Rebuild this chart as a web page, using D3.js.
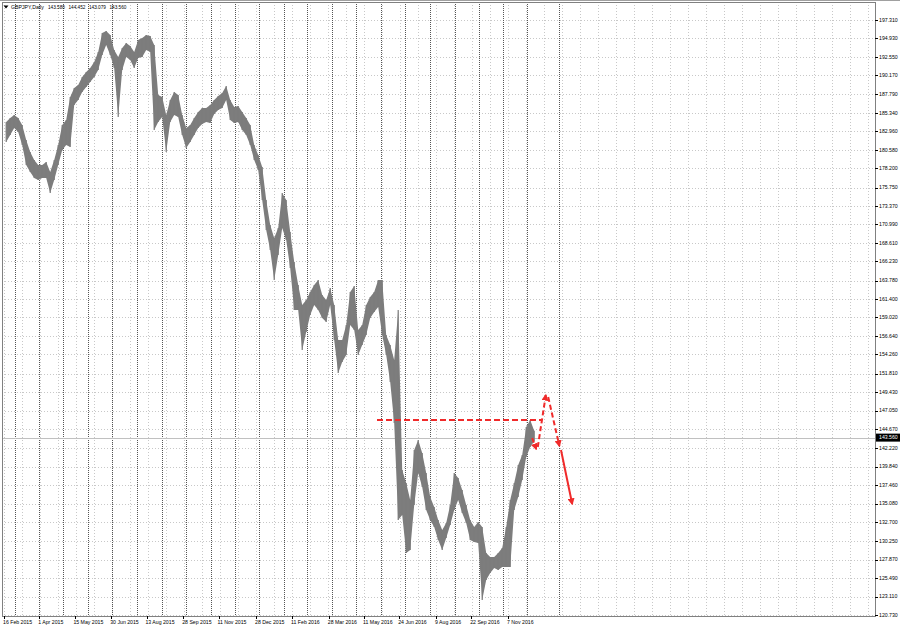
<!DOCTYPE html>
<html><head><meta charset="utf-8">
<script src="https://cdn.jsdelivr.net/npm/d3@7"></script>
<style>
html,body{margin:0;padding:0;background:#fff;}
svg{display:block;}
text{font-family:"Liberation Sans",Arial,sans-serif;}
</style></head><body>
<svg id="chart" width="900" height="629"></svg>
<script>
// ---- data ----
const symbolTitle = "GBPJPY,Daily";
const titleValues = ["143.580", "144.452", "143.079", "143.560"];
const barStart = "2015-02-16";
const barStepDays = 5; // each entry = high/low over a 5-day slice
const highs = [184.18,184.69,185.08,184.69,183.79,181.86,180.32,179.29,178.64,178.64,
179.03,177.74,179.29,181.22,183.79,184.44,187.40,188.55,188.94,189.97,
190.61,191.13,191.90,193.19,195.63,195.89,195.38,193.45,192.54,193.70,
194.35,193.96,193.19,194.73,194.99,195.38,195.25,194.09,187.65,187.40,
185.08,187.01,188.04,187.65,185.08,183.41,183.79,184.69,185.47,185.98,
185.98,186.37,187.01,187.52,187.91,188.81,187.01,186.11,186.24,185.47,
184.69,183.79,181.22,179.93,178.39,174.14,170.92,169.25,170.54,175.04,
174.14,170.02,166.16,163.20,160.63,161.27,162.30,163.20,163.84,161.91,
161.27,162.81,160.63,156.12,156.12,158.05,162.30,163.07,157.41,158.05,
160.63,161.66,162.30,163.84,163.84,156.77,155.48,153.55,159.98,139.39,
137.72,135.53,141.97,143.25,141.58,139.01,135.92,134.63,132.96,131.67,
132.57,134.89,139.01,138.36,136.82,134.89,132.96,132.05,132.70,132.05,
128.71,128.19,128.19,128.71,129.35,132.05,135.53,137.72,140.03,141.32,
144.93,145.83,144.45];
const lows = [181.60,182.51,183.41,182.89,181.22,178.64,177.74,176.97,176.71,176.97,
176.97,175.04,176.71,178.64,180.58,181.22,180.96,186.37,187.01,188.04,
188.68,189.33,189.97,190.87,192.80,194.09,192.80,191.13,184.82,190.87,
192.54,192.16,191.13,192.42,192.54,193.45,193.19,183.15,184.18,184.82,
180.32,184.18,185.08,184.82,182.51,180.83,181.60,182.51,183.41,183.92,
184.18,184.05,185.21,185.72,185.98,187.01,184.44,184.05,184.18,183.15,
182.51,181.22,179.29,178.00,174.14,170.28,167.71,163.84,167.06,170.54,
168.99,165.39,159.98,159.98,154.83,157.15,159.34,160.63,159.98,158.95,
158.44,160.63,156.12,151.87,153.29,154.19,158.05,157.41,154.19,155.48,
156.77,158.95,159.73,160.37,156.77,154.19,150.72,145.44,132.96,133.60,
128.71,129.10,134.89,139.01,137.20,134.24,132.96,132.05,130.38,129.10,
130.64,132.31,134.24,135.53,133.86,132.57,130.38,130.12,130.00,122.66,
125.23,126.13,126.78,126.52,126.91,126.91,126.91,134.24,135.92,138.10,
141.06,142.35,143.08];
const lastPrice = 143.560;
const priceTicks = ["197.310","194.930","192.550","190.170","187.790","185.340","182.960","180.580",
"178.200","175.750","173.370","170.990","168.610","166.230","163.780","161.400","159.020",
"156.640","154.260","151.810","149.430","147.050","144.670","142.220","139.840","137.460",
"135.080","132.700","130.250","127.870","125.490","123.110","120.730"];
const dateLabels = ["16 Feb 2015","1 Apr 2015","15 May 2015","30 Jun 2015","13 Aug 2015",
"28 Sep 2015","11 Nov 2015","28 Dec 2015","11 Feb 2016","28 Mar 2016","11 May 2016",
"24 Jun 2016","9 Aug 2016","22 Sep 2016","7 Nov 2016"];
const separatorFrom = "2015-03-01", separatorTo = "2016-12-02";
const markerLineDate = "2017-01-10";
const levelDates = ["2016-05-27", "2016-12-18"];
const levelPrice = 145.83;
const arrowFrom = [["2016-12-07",143.51],["2016-12-14",142.35],["2016-12-27",148.79],["2017-01-12",141.97]];
const arrowTo   = [["2016-12-12",142.09],["2016-12-24",149.04],["2017-01-10",142.48],["2017-01-26",135.02]];
const arrowDashed = [true, true, true, false];

// ---- layout ----
const W = 900, H = 629;
const plot = {l: 2, r: 875, t: 2, b: 616};
const parse = d3.timeParse("%Y-%m-%d");
const parseLabel = d3.timeParse("%e %b %Y");
const t0 = parse(barStart);
const x = d3.scaleTime().domain([t0, parse("2018-02-08")]).range([4.2, 874.6]);
const y = d3.scaleLinear().domain([120.73, 197.31]).range([615, 20]);

const svg = d3.select("#chart");
svg.append("rect").attr("width", W).attr("height", H).attr("fill", "#fff");
const defs = svg.append("defs");
defs.append("clipPath").attr("id", "clip").append("rect")
  .attr("x", plot.l).attr("y", plot.t).attr("width", plot.r - plot.l).attr("height", plot.b - plot.t);
defs.append("marker").attr("id", "ah").attr("viewBox", "0 0 10 10")
  .attr("refX", 8).attr("refY", 5).attr("markerUnits", "userSpaceOnUse")
  .attr("markerWidth", 7).attr("markerHeight", 7).attr("orient", "auto")
  .append("path").attr("d", "M0,0L10,5L0,10Z").attr("fill", "#f02a2a");

const g = svg.append("g").attr("clip-path", "url(#clip)");

// light grid horizontal
g.selectAll("line.hg").data(priceTicks).join("line")
  .attr("x1", plot.l).attr("x2", plot.r)
  .attr("y1", d => Math.round(y(+d)) + 0.5).attr("y2", d => Math.round(y(+d)) + 0.5)
  .attr("stroke", "#c8c8c8").attr("stroke-dasharray", "1,2");
// light grid vertical (every 22.5 days)
const gridDays = d3.range(0, 1100, 22.5);
g.selectAll("line.vg").data(gridDays).join("line")
  .attr("x1", d => Math.round(x(new Date(t0.getTime() + d * 864e5))) + 0.5)
  .attr("x2", d => Math.round(x(new Date(t0.getTime() + d * 864e5))) + 0.5)
  .attr("y1", plot.t).attr("y2", plot.b)
  .attr("stroke", "#c8c8c8").attr("stroke-dasharray", "1,2");
// month separators
const seps = d3.timeMonth.range(parse(separatorFrom), parse(separatorTo)).concat([parse(markerLineDate)]);
g.selectAll("line.sep").data(seps).join("line")
  .attr("x1", d => Math.round(x(d)) + 0.5).attr("x2", d => Math.round(x(d)) + 0.5)
  .attr("y1", plot.t).attr("y2", plot.b)
  .attr("stroke", "#555").attr("stroke-dasharray", "1,1");

// last price line
g.append("line").attr("x1", plot.l).attr("x2", plot.r)
  .attr("y1", Math.round(y(lastPrice)) + 0.5).attr("y2", Math.round(y(lastPrice)) + 0.5)
  .attr("stroke", "#c0c0c0");

// price band from the high/low slices
const bars = highs.map((h, i) => ({
  dc: new Date(d3.timeDay.offset(t0, i * barStepDays).getTime() + barStepDays * 864e5 / 2),
  h, l: lows[i]
}));
const band = d3.area().x(d => x(d.dc)).y0(d => y(d.l)).y1(d => y(d.h)).curve(d3.curveLinear);
g.append("path").datum(bars).attr("d", band).attr("fill", "#7d7d7d");
// daily-style wicks
g.selectAll("line.wick").data(bars).join("line")
  .attr("x1", d => x(d.dc)).attr("x2", d => x(d.dc))
  .attr("y1", d => y(d.h)).attr("y2", d => y(d.l))
  .attr("stroke", "#7d7d7d").attr("stroke-width", 1.2);

// red level line
g.append("line")
  .attr("x1", x(parse(levelDates[0]))).attr("x2", x(parse(levelDates[1])))
  .attr("y1", y(levelPrice)).attr("y2", y(levelPrice))
  .attr("stroke", "#f02a2a").attr("stroke-width", 2).attr("stroke-dasharray", "6,3");
// forecast arrows
g.selectAll("line.arr").data(arrowFrom).join("line")
  .attr("x1", d => x(parse(d[0]))).attr("y1", d => y(d[1]))
  .attr("x2", (d, i) => x(parse(arrowTo[i][0]))).attr("y2", (d, i) => y(arrowTo[i][1]))
  .attr("stroke", "#f02a2a").attr("stroke-width", 2)
  .attr("stroke-dasharray", (d, i) => arrowDashed[i] ? "5,3" : null)
  .attr("marker-end", "url(#ah)");

// frame
svg.append("rect").attr("x", plot.l + 0.5).attr("y", plot.t + 0.5)
  .attr("width", plot.r - plot.l).attr("height", plot.b - plot.t)
  .attr("fill", "none").attr("stroke", "#808080");
svg.append("line").attr("x1", 0).attr("x2", W).attr("y1", 0.5).attr("y2", 0.5).attr("stroke", "#a0a0a0");

// right axis
const fs = 5.2;
svg.selectAll("line.pt").data(priceTicks).join("line")
  .attr("x1", plot.r).attr("x2", plot.r + 3)
  .attr("y1", d => Math.round(y(+d)) + 0.5).attr("y2", d => Math.round(y(+d)) + 0.5)
  .attr("stroke", "#000");
svg.selectAll("text.pt").data(priceTicks).join("text")
  .attr("x", plot.r + 4).attr("y", d => y(+d) + 1.8)
  .attr("font-size", fs).attr("fill", "#000").text(d => d);
// last price box
svg.append("rect").attr("x", plot.r + 1).attr("y", y(lastPrice) - 4)
  .attr("width", W - plot.r - 1).attr("height", 8).attr("fill", "#000");
svg.append("text").attr("x", plot.r + 4).attr("y", y(lastPrice) + 1.8)
  .attr("font-size", fs).attr("fill", "#fff").text(lastPrice.toFixed(3));

// bottom axis
svg.selectAll("line.dt").data(dateLabels).join("line")
  .attr("x1", d => Math.round(x(parseLabel(d))) + 0.5).attr("x2", d => Math.round(x(parseLabel(d))) + 0.5)
  .attr("y1", plot.b).attr("y2", plot.b + 3).attr("stroke", "#000");
svg.selectAll("text.dt").data(dateLabels).join("text")
  .attr("x", d => x(parseLabel(d)) - 1.2).attr("y", plot.b + 7.5)
  .attr("font-size", fs).attr("fill", "#000").text(d => d);

// title
svg.append("path").attr("d", "M3.5,5.5L8.5,5.5L6,8.5Z").attr("fill", "#000");
svg.append("text").attr("x", 11).attr("y", 8.6).attr("font-size", fs).attr("fill", "#000").text(symbolTitle);
svg.selectAll("text.tv").data(titleValues).join("text")
  .attr("x", (d, i) => 48 + i * 20.5).attr("y", 8.6)
  .attr("font-size", 4.7).attr("fill", "#000").text(d => d);
</script>
</body></html>
